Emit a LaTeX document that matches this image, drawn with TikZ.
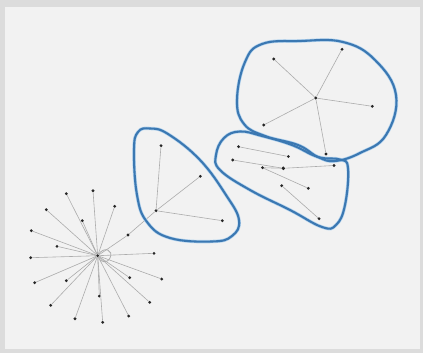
\documentclass[tikz,border=0pt]{standalone}
\usetikzlibrary{calc}
\definecolor{frameg}{HTML}{DCDCDC}
\definecolor{paneg}{HTML}{F2F2F2}
\definecolor{edgeg}{HTML}{ACACAC}
\definecolor{hullblue}{HTML}{3B78B2}
\definecolor{halo}{HTML}{B3D3EE}
\tikzset{
  vtx/.style={circle,fill=black!85,inner sep=0pt,minimum size=3.1pt},
  lnk/.style={draw=edgeg,line width=0.6pt},
  hull/.style={draw=hullblue,line width=2.1pt},
  hullhalo/.style={draw=halo,line width=3.4pt},
}
\begin{document}
\begin{tikzpicture}[x=1pt,y=-1pt]
\useasboundingbox (0,0) rectangle (423,353);
\fill[frameg] (0,0) rectangle (423,353);
\fill[paneg] (5,7) rectangle (420,349);

% star cluster
\node[vtx] (h) at (97.7,255.7) {};
\foreach \i/\x/\y in {1/66.3/193.7,2/93/190.7,3/114.7/206.3,4/46.3/209.7,5/82.3/220.7,
  6/31.3/230.7,7/128/235,8/57/246.3,9/30.7/257.7,10/154/253.3,11/34.7/282.7,
  12/66.3/280.7,13/129.7/277.7,14/161.7/279,15/99.3/296,16/50.7/305.3,
  17/149.7/302.3,18/75/318.7,19/128.7/316,20/102.7/322.3}{
  \node[vtx] (s\i) at (\x,\y) {};
}
\foreach \i in {1,...,20}{\draw[lnk] (h) -- (s\i);}
\draw[lnk,line width=0.8pt] (h) .. controls (104,246) and (114,250) .. (110,258) .. controls (107,264) and (100,262) .. (h);

% triangle cluster
\node[vtx] (t0) at (156,210.7) {};
\node[vtx] (t1) at (161,145.7) {};
\node[vtx] (t2) at (200.3,176.3) {};
\node[vtx] (t3) at (222.3,220.7) {};
\draw[lnk] (s7) -- (t0);
\foreach \i in {1,2,3}{\draw[lnk] (t0) -- (t\i);}

% middle cluster
\node[vtx,minimum size=3.8pt] (m0) at (283.3,168.3) {};
\node[vtx] (m1) at (238.5,146.7) {};
\node[vtx] (m2) at (232.7,160) {};
\node[vtx] (m3) at (262.5,167.7) {};
\node[vtx] (m4) at (288.3,156.5) {};
\node[vtx] (m5) at (334,165.5) {};
\node[vtx] (m6) at (281.7,185.7) {};
\node[vtx] (m7) at (308.3,188.3) {};
\node[vtx] (m8) at (319,218.7) {};
\draw[lnk] (m1) -- (m4);
\draw[lnk] (m2) -- (m0);
\draw[lnk] (m0) -- (m5);
\draw[lnk] (m3) -- (m7);
\draw[lnk] (m6) -- (m8);
\draw[lnk] (m0) -- (m3);

% top cluster
\node[vtx] (u0) at (315.7,98) {};
\node[vtx] (u1) at (342,49.3) {};
\node[vtx] (u2) at (273.7,59) {};
\node[vtx] (u3) at (372.3,106.3) {};
\node[vtx] (u4) at (263.7,125) {};
\node[vtx] (u5) at (326,154) {};
\foreach \i in {1,...,5}{\draw[lnk] (u0) -- (u\i);}

% hulls
\foreach \s in {hullhalo,hull}{
\draw[\s] plot[smooth cycle,tension=0.7] coordinates {
  (150,128.5) (168,134) (200,160) (226,195) (239,220) (232,236) (212,241.5)
  (170,238) (147,222) (137,195) (134,150) (138,132)};
\draw[\s] plot[smooth cycle,tension=0.7] coordinates {
  (240,131.5) (262,136) (292,145) (318,157) (340,159.5) (348,168)
  (345,205) (336,225) (322,227) (290,210) (250,190) (220,170) (216,155) (224,138)};
\draw[\s] plot[smooth cycle,tension=0.7] coordinates {
  (262,44) (300,41) (343,42) (375,60) (396,95) (386,135) (360,153)
  (335,161) (318,157) (298,145) (265,136) (244,124) (237,100) (245,62)};
}
\end{tikzpicture}
\end{document}
